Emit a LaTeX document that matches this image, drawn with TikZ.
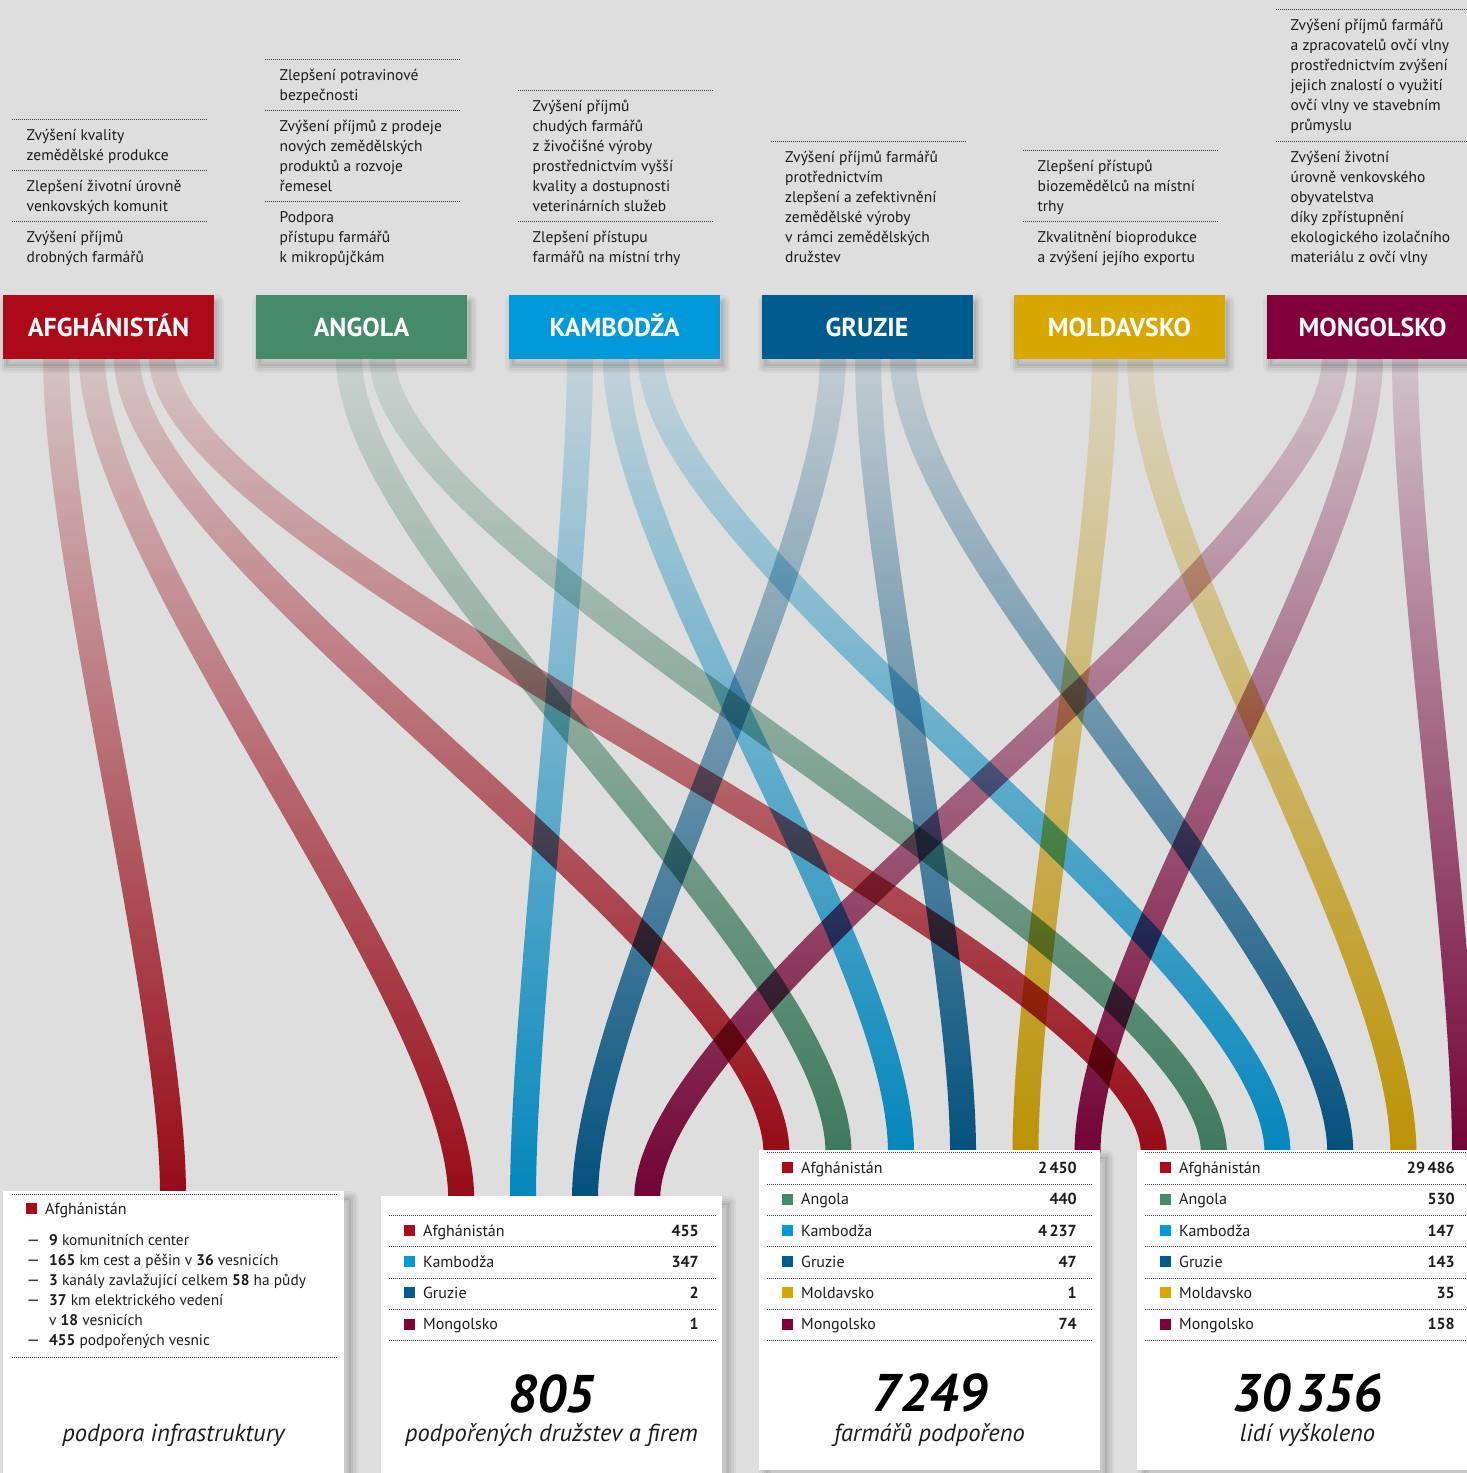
\documentclass[tikz,border=0pt]{standalone}
\usepackage{fontspec}
\setmainfont{PT Sans}
\usetikzlibrary{calc,fadings}
\definecolor{bg}{HTML}{DEDEDE}
\definecolor{cAF}{HTML}{AD0A19}
\definecolor{cAN}{HTML}{448A6B}
\definecolor{cKA}{HTML}{009AD8}
\definecolor{cGR}{HTML}{005B8F}
\definecolor{cMD}{HTML}{D9A800}
\definecolor{cMN}{HTML}{82003A}
\definecolor{dotc}{HTML}{3A3A3A}
\definecolor{txt}{HTML}{1C1C1C}
\tikzfading[name=ribfade, top color=transparent!90, bottom color=transparent!0]
\newcommand\lineup{\rule{0pt}{17pt}}
\tikzset{
 rib/.style={line width=26pt, draw=#1, path fading=ribfade, blend mode=multiply},
 shadowlayers/.style={
   preaction={draw=black, draw opacity=0.04, line width=14pt, line join=round, transform canvas={shift={(#1)}}},
   preaction={draw=black, draw opacity=0.05, line width=9pt, line join=round, transform canvas={shift={(#1)}}},
   preaction={draw=black, draw opacity=0.06, line width=4pt, line join=round, transform canvas={shift={(#1)}}},
   preaction={fill=black, fill opacity=0.06, transform canvas={shift={(#1)}}}},
 cbox/.style={fill=#1, minimum width=211pt, minimum height=64pt, inner sep=0pt, text=white,
   text height=19pt, text depth=0pt,
   font=\fontsize{26}{26}\selectfont\bfseries, shadowlayers={3pt,-7pt}},
 wbox/.style={fill=white, minimum width=341pt, minimum height=320pt, inner sep=0pt, anchor=north west,
   shadowlayers={7pt,-7pt}},
 desc/.style={anchor=north west, inner sep=0pt, align=left, font=\fontsize{15.5}{20}\selectfont, text=txt},
 dotl/.style={draw=dotc, line width=0.8pt, dash pattern=on 0.8pt off 1.2pt},
 sq/.style={fill=#1, inner sep=0pt, minimum size=11pt, anchor=south west},
 rowtxt/.style={anchor=base west, inner sep=0pt, font=\fontsize{16}{16}\selectfont, text=txt},
 listtxt/.style={anchor=base west, inner sep=0pt, font=\fontsize{15.4}{15.4}\selectfont, text=txt},
 dashtxt/.style={anchor=base west, inner sep=0pt, font=\fontsize{16.5}{16.5}\selectfont, text=txt},
 rownum/.style={anchor=base east, inner sep=0pt, font=\fontsize{16}{16}\selectfont\bfseries, text=txt},
 bignum/.style={anchor=base, inner sep=0pt, font=\fontsize{53}{53}\selectfont\bfseries\itshape, text=black},
 capt/.style={anchor=base, inner sep=0pt, font=\fontsize{24.5}{24.5}\selectfont\itshape, text=txt},
}
\begin{document}
\begin{tikzpicture}[x=1pt,y=-1pt]
\useasboundingbox (0,0) rectangle (1467,1473);
\fill[bg] (0,0) rectangle (1467,1473);

% ---------- ribbon end points ----------
\coordinate (sAF1) at (56,356);   \coordinate (sAF2) at (92,356);
\coordinate (sAF3) at (127,356);  \coordinate (sAF4) at (162,356);
\coordinate (sAN1) at (349,356);  \coordinate (sAN2) at (383,356);
\coordinate (sKA1) at (580,356);  \coordinate (sKA2) at (616,356);  \coordinate (sKA3) at (651,356);
\coordinate (sGR1) at (833,356);  \coordinate (sGR2) at (868,356);  \coordinate (sGR3) at (903,356);
\coordinate (sMD1) at (1105,356); \coordinate (sMD2) at (1140,356);
\coordinate (sMN1) at (1336,356); \coordinate (sMN2) at (1370,356); \coordinate (sMN3) at (1405,356);

\coordinate (e1a) at (173,1194);
\coordinate (e2a) at (461.5,1199); \coordinate (e2k) at (523,1199);
\coordinate (e2g) at (585,1199);   \coordinate (e2m) at (647.5,1199);
\coordinate (e3a) at (777,1153);   \coordinate (e3n) at (839,1153);  \coordinate (e3k) at (901,1153);
\coordinate (e3g) at (963,1153);   \coordinate (e3d) at (1025.5,1153); \coordinate (e3m) at (1087.5,1153);
\coordinate (e4a) at (1154,1153);  \coordinate (e4n) at (1216,1153); \coordinate (e4k) at (1278.5,1153);
\coordinate (e4g) at (1340.5,1153); \coordinate (e4d) at (1403.5,1153); \coordinate (e4m) at (1465,1153);

\foreach \s/\e/\c in {sAF1/e1a/cAF, sAF2/e2a/cAF, sAF3/e3a/cAF, sAF4/e4a/cAF,
  sAN1/e3n/cAN, sAN2/e4n/cAN,
  sKA1/e2k/cKA, sKA2/e3k/cKA, sKA3/e4k/cKA,
  sGR1/e2g/cGR, sGR2/e3g/cGR, sGR3/e4g/cGR,
  sMD1/e3d/cMD, sMD2/e4d/cMD,
  sMN1/e2m/cMN, sMN2/e3m/cMN, sMN3/e4m/cMN}
  \draw[rib=\c] (\s) .. controls ($(\s)+(0,200)$) and ($(\e)+(0,-200)$) .. (\e);

% ---------- country boxes ----------
\node[cbox=cAF] (AF) at (108.5,327) {AFGHÁNISTÁN};
\node[cbox=cAN] (AN) at (361.5,327) {ANGOLA};
\node[cbox=cKA] (KA) at (614.5,327) {KAMBODŽA};
\node[cbox=cGR] (GR) at (867,327) {GRUZIE};
\node[cbox=cMD] (MD) at (1119.5,327) {MOLDAVSKO};
\node[cbox=cMN] (MN) at (1372.5,327) {MONGOLSKO};

% ---------- descriptions ----------
% column 1
\draw[dotl] (12,119)--(207,119);
\node[desc] (d11) at (26.5,123) {\lineup Zvýšení kvality\\zemědělské produkce};
\draw[dotl] (12,170)--(207,170);
\node[desc] (d12) at (26.5,174) {\lineup Zlepšení životní úrovně\\venkovských komunit};
\draw[dotl] (12,221)--(207,221);
\node[desc] (d13) at (26.5,225) {\lineup Zvýšení příjmů\\drobných farmářů};
% column 2
\draw[dotl] (265,59)--(460,59);
\node[desc] (d21) at (279.5,63) {\lineup Zlepšení potravinové\\bezpečnosti};
\draw[dotl] (265,110)--(460,110);
\node[desc] (d22) at (279.5,114) {\lineup Zvýšení příjmů z prodeje\\nových zemědělských\\produktů a rozvoje\\řemesel};
\draw[dotl] (265,201)--(460,201);
\node[desc] (d23) at (279.5,205) {\lineup Podpora\\přístupu farmářů\\k mikropůjčkám};
% column 3
\draw[dotl] (518,90)--(713,90);
\node[desc] (d31) at (532.5,94) {\lineup Zvýšení příjmů\\chudých farmářů\\z živočišné výroby\\prostřednictvím vyšší\\kvality a dostupnosti\\veterinárních služeb};
\draw[dotl] (518,221)--(713,221);
\node[desc] (d32) at (532.5,225) {\lineup Zlepšení přístupu\\farmářů na místní trhy};
% column 4
\draw[dotl] (770.5,141)--(965.5,141);
\node[desc] (d41) at (785,145) {\lineup Zvýšení příjmů farmářů\\protřednictvím\\zlepšení a zefektivnění\\zemědělské výroby\\v rámci zemědělských\\družstev};
% column 5
\draw[dotl] (1023,150)--(1218,150);
\node[desc] (d51) at (1037.5,154) {\lineup Zlepšení přístupů\\biozemědělců na místní\\trhy};
\draw[dotl] (1023,221)--(1218,221);
\node[desc] (d52) at (1037.5,225) {\lineup Zkvalitnění bioprodukce\\a zvýšení jejího exportu};
% column 6
\draw[dotl] (1276,9.5)--(1467,9.5);
\node[desc] (d61) at (1290.5,13.5) {\lineup Zvýšení příjmů farmářů\\a zpracovatelů ovčí vlny\\prostřednictvím zvýšení\\jejich znalostí o využití\\ovčí vlny ve stavebním\\průmyslu};
\draw[dotl] (1276,141)--(1467,141);
\node[desc] (d62) at (1290.5,145) {\lineup Zvýšení životní\\úrovně venkovského\\obyvatelstva\\díky zpřístupnění\\ekologického izolačního\\materiálu z ovčí vlny};

% ---------- bottom boxes ----------
\node[wbox] (B1) at (3,1191) {};
\node[wbox] (B2) at (381,1196) {};
\node[wbox] (B3) at (759,1150) {};
\node[wbox] (B4) at (1137,1150) {};

% box 1
\draw[dotl] (12,1194)--(337,1194);
\node[sq=cAF] (s1) at (26,1214) {};
\node[rowtxt] (t1) at (45,1214) {Afghánistán};
\foreach \i/\tx in {0/{\textbf{9} komunitních center},
                   1/{\textbf{165} km cest a pěšin v \textbf{36} vesnicích},
                   2/{\textbf{3} kanály zavlažující celkem \textbf{58} ha půdy},
                   3/{\textbf{37} km elektrického vedení},
                   5/{\textbf{455} podpořených vesnic}}{
  \node[dashtxt] (l1d\i) at (26.5,{1245+20*\i}) {—};
  \node[listtxt] (l1t\i) at (49,{1245+20*\i}) {\tx};
}
\node[listtxt] (l1t4) at (49,1325) {v \textbf{18} vesnicích};
\draw[dotl] (12,1357)--(337,1357);
\node[capt] (c1) at (173.5,1441) {podpora infrastruktury};

% box 2
\foreach \i in {0,...,4} \draw[dotl] (389,{1215.3+31.3*\i})--(716,{1215.3+31.3*\i});
\foreach \i/\c/\n/\v in {0/cAF/Afghánistán/455, 1/cKA/Kambodža/347, 2/cGR/Gruzie/2, 3/cMN/Mongolsko/1}{
  \node[sq=\c] (s2\i) at (404,{1236+31.3*\i}) {};
  \node[rowtxt] (t2\i) at (423,{1236+31.3*\i}) {\n};
  \node[rownum] (n2\i) at (699,{1236+31.3*\i}) {\v};
}
\node[bignum] (N2) at (551.5,1412) {805};
\node[capt] (c2) at (551.5,1441) {podpořených družstev a firem};

% box 3
\foreach \i in {0,...,6} \draw[dotl] (767,{1152.7+31.3*\i})--(1093,{1152.7+31.3*\i});
\foreach \i/\c/\n/\v in {0/cAF/Afghánistán/{2\kern2.5pt450}, 1/cAN/Angola/440, 2/cKA/Kambodža/{4\kern2.5pt237},
   3/cGR/Gruzie/47, 4/cMD/Moldavsko/1, 5/cMN/Mongolsko/74}{
  \node[sq=\c] (s3\i) at (782,{1173.4+31.3*\i}) {};
  \node[rowtxt] (t3\i) at (801,{1173.4+31.3*\i}) {\n};
  \node[rownum] (n3\i) at (1077,{1173.4+31.3*\i}) {\v};
}
\node[bignum] (N3) at (929.5,1411.5) {7249};
\node[capt] (c3) at (929.5,1441) {farmářů podpořeno};

% box 4
\foreach \i in {0,...,6} \draw[dotl] (1145,{1152.7+31.3*\i})--(1467,{1152.7+31.3*\i});
\foreach \i/\c/\n/\v in {0/cAF/Afghánistán/{29\kern2.5pt486}, 1/cAN/Angola/530, 2/cKA/Kambodža/147,
   3/cGR/Gruzie/143, 4/cMD/Moldavsko/35, 5/cMN/Mongolsko/158}{
  \node[sq=\c] (s4\i) at (1160,{1173.4+31.3*\i}) {};
  \node[rowtxt] (t4\i) at (1179,{1173.4+31.3*\i}) {\n};
  \node[rownum] (n4\i) at (1455,{1173.4+31.3*\i}) {\v};
}
\node[bignum] (N4) at (1307.5,1411.5) {30\kern6pt356};
\node[capt] (c4) at (1307.5,1441) {lidí vyškoleno};
\end{tikzpicture}
\end{document}
